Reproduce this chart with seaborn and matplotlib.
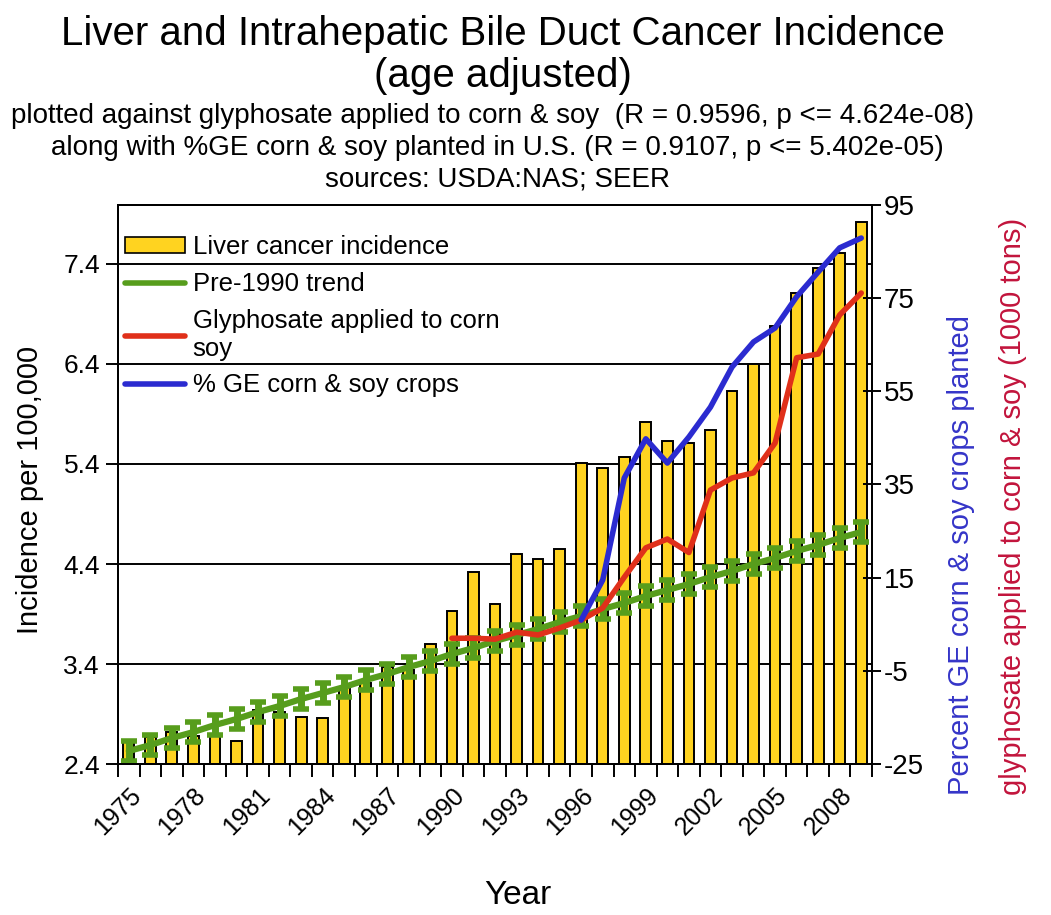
import numpy as np
import pandas as pd
import matplotlib
matplotlib.use("Agg")
import matplotlib.pyplot as plt
from matplotlib.patches import Patch
from matplotlib.lines import Line2D
from matplotlib.ticker import FixedLocator, MultipleLocator
import seaborn as sns

# Liver cancer incidence per 100,000 (age adjusted)
years = list(range(1975, 2010))
incidence = [2.64, 2.67, 2.72, 2.68, 2.69, 2.63, 2.94, 2.92, 2.87, 2.86,
             3.17, 3.21, 3.37, 3.34, 3.60, 3.93, 4.32, 4.00, 4.50, 4.45,
             4.55, 5.41, 5.36, 5.47, 5.82, 5.63, 5.61, 5.74, 6.13, 6.40,
             6.78, 7.11, 7.36, 7.51, 7.82]

# pre-1990 trend line (with error bars)
trend = [2.53, 2.59, 2.66, 2.72, 2.79, 2.85, 2.92, 2.98, 3.05, 3.11,
         3.17, 3.24, 3.30, 3.37, 3.43, 3.50, 3.56, 3.63, 3.69, 3.75,
         3.82, 3.88, 3.95, 4.01, 4.08, 4.14, 4.20, 4.27, 4.33, 4.40,
         4.46, 4.53, 4.59, 4.66, 4.72]
trend_err = 0.1

# glyphosate applied to corn & soy (1000 tons)
gly_years = list(range(1990, 2010))
glyphosate = [2.0, 2.0, 1.8, 3.3, 2.7, 4.2, 5.9, 8.5, 15.1, 21.4,
              23.3, 20.4, 33.8, 36.4, 37.5, 43.9, 62.2, 63.0, 71.4, 76.1]

# percent GE corn & soy planted
ge_years = list(range(1996, 2010))
ge_pct = [5.9, 14.5, 36.4, 44.8, 39.6, 45.2, 51.6, 60.2, 65.6, 68.6,
          75.3, 80.6, 85.8, 87.9]

bar_color = "#FFD320"
green = "#579D1C"
red = "#E0301A"
blue = "#2B2BD0"

sns.set_theme(style="white")
plt.rcParams["font.family"] = ["Liberation Sans", "DejaVu Sans"]
plt.rcParams["axes.unicode_minus"] = False
for key in ["text.color", "axes.labelcolor", "xtick.color", "ytick.color"]:
    plt.rcParams[key] = "black"

df = pd.DataFrame({"Year": years, "Incidence": incidence})

fig = plt.figure(figsize=(10.51, 9.15), dpi=100)
ax = fig.add_axes([0.1123, 0.165, 0.7174, 0.611])

# horizontal grid lines behind the bars
ax.set_axisbelow(True)
ax.yaxis.grid(True, color="black", linewidth=1.4)

sns.barplot(data=df, x="Year", y="Incidence", native_scale=True, width=0.5,
            color=bar_color, edgecolor="black", linewidth=1.4,
            saturation=1, ax=ax, zorder=2)

ax.errorbar(years, trend, yerr=trend_err, color=green, linewidth=4.5,
            elinewidth=5, capsize=6, capthick=4, zorder=3)

ax.set_xlim(1974.5, 2009.5)
ax.set_ylim(2.4, 7.99)
ax.yaxis.set_major_locator(FixedLocator([2.4, 3.4, 4.4, 5.4, 6.4, 7.4]))
ax.set_yticklabels(["2.4", "3.4", "4.4", "5.4", "6.4", "7.4"])

label_years = years[::3]
ax.xaxis.set_major_locator(FixedLocator(label_years))
ax.set_xticklabels([str(y) for y in label_years], rotation=45, ha="right",
                   rotation_mode="anchor")
ax.xaxis.set_minor_locator(MultipleLocator(1, offset=0.5))
ax.tick_params(axis="x", which="major", length=0, labelsize=18, pad=14)
ax.tick_params(axis="x", which="minor", length=9, width=1.4, color="black",
               direction="out", bottom=True)
ax.tick_params(axis="y", length=9, width=1.4, color="black", direction="out",
               left=True, labelsize=19, pad=4)
for s in ax.spines.values():
    s.set_color("black")
    s.set_linewidth(1.4)

ax.set_xlabel("Year", fontsize=24)
ax.xaxis.set_label_coords(0.53, -0.208)
ax.set_ylabel("Incidence per 100,000", fontsize=21)
ax.yaxis.set_label_coords(-0.098, 0.49)

ax2 = ax.twinx()
sns.lineplot(x=gly_years, y=glyphosate, color=red, linewidth=4, ax=ax2)
sns.lineplot(x=ge_years, y=ge_pct, color=blue, linewidth=4, ax=ax2)
ax2.set_ylim(-25, 95)
ax2.yaxis.set_major_locator(FixedLocator([-25, -5, 15, 35, 55, 75, 95]))
ax2.tick_params(axis="y", length=13, width=1.4, color="black",
                direction="inout", right=True, labelsize=20, pad=2)
ax2.set_ylabel("")
for s in ax2.spines.values():
    s.set_color("black")
    s.set_linewidth(1.4)

handles = [
    Patch(facecolor=bar_color, edgecolor="black", linewidth=1.2),
    Line2D([], [], color=green, linewidth=4),
    Line2D([], [], color=red, linewidth=4),
    Line2D([], [], color=blue, linewidth=4),
]
labels = ["Liver cancer incidence", "Pre-1990 trend",
          "Glyphosate applied to corn\nsoy", "% GE corn & soy crops"]
ax2.legend(handles, labels, loc="upper left", bbox_to_anchor=(0.0093, 0.946),
           frameon=False, fontsize=18.5, handlelength=2.33, handleheight=0.55,
           handletextpad=0.3, labelspacing=0.5, borderaxespad=0, borderpad=0)

fig.text(0.914, 0.131, "Percent GE corn & soy crops planted", color="#3535C8",
         fontsize=21, rotation=90, ha="center", va="bottom")
fig.text(0.964, 0.131, "glyphosate applied to corn & soy (1000 tons)",
         color="#C2143C", fontsize=21, rotation=90, ha="center", va="bottom")

fig.text(0.479, 0.963, "Liver and Intrahepatic Bile Duct Cancer Incidence",
         fontsize=29, ha="center", va="center")
fig.text(0.479, 0.917, "(age adjusted)", fontsize=29, ha="center", va="center")
fig.text(0.469, 0.873,
         "plotted against glyphosate applied to corn & soy  (R = 0.9596, p <= 4.624e-08)",
         fontsize=20, ha="center", va="center")
fig.text(0.473, 0.838,
         "along with %GE corn & soy planted in U.S. (R = 0.9107, p <= 5.402e-05)",
         fontsize=20, ha="center", va="center")
fig.text(0.473, 0.804, "sources: USDA:NAS; SEER", fontsize=20,
         ha="center", va="center")

fig.savefig("out.png", dpi=100, facecolor="white")
